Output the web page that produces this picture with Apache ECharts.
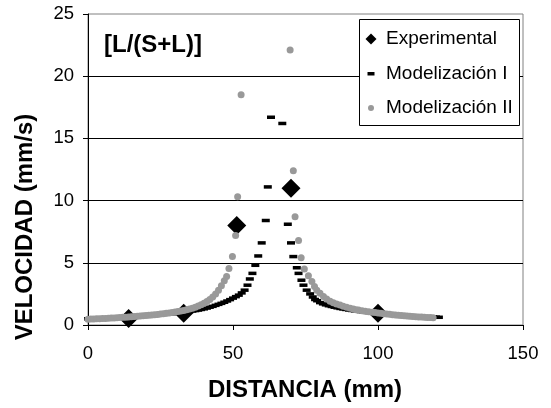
<!DOCTYPE html>
<html>
<head>
<meta charset="utf-8">
<script src="https://cdn.jsdelivr.net/npm/echarts@6/dist/echarts.min.js"></script>
<style>html,body{margin:0;padding:0;background:#fff;}#c{width:551px;height:408px;}</style>
</head>
<body>
<div id="c"></div>
<script>
// ---- data ----
var xTicks = [0, 50, 100, 150];
var yTicks = [0, 5, 10, 15, 20, 25];
var seriesNames = ['Experimental', 'Modelización I', 'Modelización II'];
var chartLabel = '[L/(S+L)]';

var expX = [14, 33, 51.3, 70, 100];
var expY = [0.52, 0.95, 8.0, 11.0, 0.95];

var mod1X = [0,1,2,3,4,5,6,7,8,9,10,11,12,13,14,15,16,17,18,19,20,21,22,23,24,25,26,27,28,29,30,31,32,33,34,35,36,37,38,39,40,41,42,43,44,45,46,47,48,49,50,51,52,53,
  54,55,55.8,56.7,57.7,58.7,59.9,61.3,62.0,63.1,67.0,68.9,70.0,70.8,72.0,72.6,73.6,74.3,75.4,76.6,77.5,78.3,79,
  80,81,82,83,84,85,86,87,88,89,90,91,92,93,94,95,96,97,98,99,100,101,102,103,104,105,106,107,108,109,110,111,112,113,114,115,116,117,118,119,120,121];
var mod1Y = [0.50,0.51,0.52,0.53,0.54,0.55,0.56,0.57,0.58,0.59,0.60,0.61,0.62,0.63,0.64,0.66,0.67,0.68,0.70,0.71,0.73,0.75,0.77,0.79,0.81,0.83,0.85,0.87,0.89,0.91,0.93,0.95,0.98,1.01,1.04,1.08,1.12,1.16,1.20,1.25,1.30,1.36,1.43,1.50,1.58,1.66,1.74,1.83,1.93,2.04,2.16,2.28,2.40,2.58,
  2.80,3.20,3.70,4.15,4.80,5.55,6.60,8.40,11.10,16.70,16.20,8.10,6.60,5.50,4.60,4.15,3.60,3.20,2.80,2.50,2.25,2.05,1.95,
  1.80,1.70,1.62,1.55,1.49,1.43,1.38,1.33,1.29,1.25,1.21,1.17,1.14,1.11,1.08,1.05,1.02,1.00,0.98,0.96,0.94,0.92,0.90,0.88,0.86,0.84,0.82,0.80,0.79,0.77,0.76,0.74,0.73,0.71,0.70,0.69,0.67,0.66,0.65,0.64,0.63,0.62];

var mod2X = [0,1,2,3,4,5,6,7,8,9,10,11,12,13,14,15,16,17,18,19,20,21,22,23,24,25,26,27,28,29,30,31,32,33,34,35,36,37,38,39,40,41,42,43,44,45,46,47,
  47.8,48.6,49.8,50.9,51.6,52.8,
  69.7,70.8,71.4,72.6,73.5,74.6,76,77.2,78.1,78.9,80,81.2,82.3,83.5,84.6,85.7,86.9,88,89.2,90.4,91.5,92.4,93.3,94.5,95.6,96.8,98,99,
  100,101,102,103,104,105,106,107,108,109,110,111,112,113,114,115,116,117,118,119];
var mod2Y = [0.47,0.48,0.49,0.50,0.51,0.52,0.53,0.54,0.56,0.57,0.59,0.60,0.62,0.63,0.65,0.67,0.68,0.70,0.72,0.74,0.76,0.78,0.80,0.83,0.85,0.88,0.91,0.94,0.97,1.00,1.04,1.08,1.12,1.17,1.22,1.28,1.35,1.43,1.52,1.62,1.74,1.88,2.05,2.25,2.50,2.80,3.15,3.55,
  3.90,4.55,5.50,7.20,10.30,18.50,
  22.1,12.4,8.7,6.8,5.4,4.5,3.95,3.5,3.1,2.8,2.55,2.3,2.1,1.9,1.78,1.68,1.6,1.5,1.42,1.34,1.28,1.23,1.2,1.15,1.11,1.07,1.03,1.0,
  0.97,0.94,0.91,0.88,0.86,0.83,0.80,0.78,0.76,0.74,0.72,0.70,0.68,0.67,0.65,0.64,0.62,0.61,0.60,0.59];

function pairs(xs, ys) { return xs.map(function (x, i) { return [x, ys[i]]; }); }

var FONT = 'Arial, "Liberation Sans", sans-serif';
var chart = echarts.init(document.getElementById('c'), null, { renderer: 'canvas' });

chart.setOption({
  animation: false,
  backgroundColor: '#fff',
  grid: { left: 88, right: 28, top: 14, bottom: 83, show: true, borderColor: '#808080', borderWidth: 1, backgroundColor: 'transparent' },
  xAxis: {
    type: 'value', min: xTicks[0], max: xTicks[xTicks.length - 1], interval: 50,
    axisLine: { show: true, lineStyle: { color: '#000', width: 1 } },
    axisTick: { show: true, inside: false, length: 5, lineStyle: { color: '#000' } },
    axisLabel: { margin: 19, fontSize: 18.5, color: '#000', fontFamily: FONT },
    splitLine: { show: false }
  },
  yAxis: {
    type: 'value', min: yTicks[0], max: yTicks[yTicks.length - 1], interval: 5,
    axisLine: { show: true, lineStyle: { color: '#000', width: 1 } },
    axisTick: { show: true, inside: false, length: 5, lineStyle: { color: '#000' } },
    axisLabel: { margin: 14, fontSize: 18.5, color: '#000', fontFamily: FONT },
    splitLine: { show: true, showMinLine: false, showMaxLine: false, lineStyle: { color: '#000', width: 1 } }
  },
  series: [
    { name: seriesNames[0], type: 'scatter', symbol: 'diamond', symbolSize: 19,
      itemStyle: { color: '#000', opacity: 1 }, data: pairs(expX, expY), z: 2 },
    { name: seriesNames[1], type: 'scatter', symbol: 'rect', symbolSize: [8, 3.5],
      itemStyle: { color: '#000', opacity: 1 }, data: pairs(mod1X, mod1Y), z: 3 },
    { name: seriesNames[2], type: 'scatter', symbol: 'circle', symbolSize: 7,
      itemStyle: { color: '#999999', opacity: 1 }, data: pairs(mod2X, mod2Y), z: 4 }
  ],
  graphic: [
    { type: 'text', left: 104, top: 33, z: 100,
      style: { text: chartLabel, font: 'bold 24px ' + FONT, fill: '#000' } },
    { type: 'text', x: 305, y: 390, z: 100,
      style: { text: 'DISTANCIA (mm)', font: 'bold 24px ' + FONT, fill: '#000', align: 'center', verticalAlign: 'middle' } },
    { type: 'text', x: 25, y: 227, rotation: Math.PI / 2, z: 100,
      style: { text: 'VELOCIDAD (mm/s)', font: 'bold 24px ' + FONT, fill: '#000', align: 'center', verticalAlign: 'middle' } },
    // legend box
    { type: 'rect', z: 100, shape: { x: 359.5, y: 19.5, width: 160, height: 106 },
      style: { fill: '#fff', stroke: '#000', lineWidth: 1 } },
    { type: 'polygon', z: 101, shape: { points: [[371, 33.5], [376.5, 39], [371, 44.5], [365.5, 39]] }, style: { fill: '#000' } },
    { type: 'rect', z: 101, shape: { x: 367.5, y: 72, width: 7, height: 3.5 }, style: { fill: '#000' } },
    { type: 'circle', z: 101, shape: { cx: 371, cy: 108, r: 3 }, style: { fill: '#999999' } },
    { type: 'text', x: 386, y: 39, z: 101, style: { text: seriesNames[0], font: '19px ' + FONT, fill: '#000', verticalAlign: 'middle' } },
    { type: 'text', x: 386, y: 74, z: 101, style: { text: seriesNames[1], font: '19px ' + FONT, fill: '#000', verticalAlign: 'middle' } },
    { type: 'text', x: 386, y: 108, z: 101, style: { text: seriesNames[2], font: '19px ' + FONT, fill: '#000', verticalAlign: 'middle' } }
  ]
});
</script>
</body>
</html>
